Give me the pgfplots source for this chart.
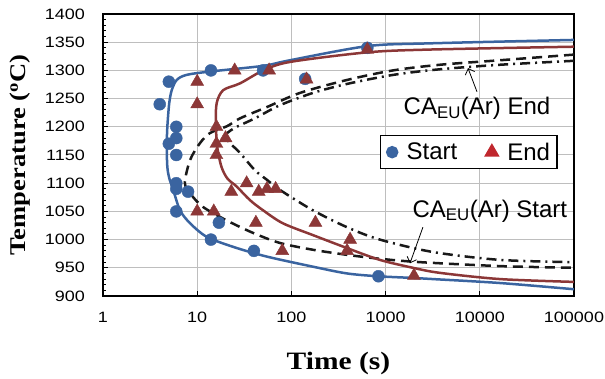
\documentclass[border=0pt]{standalone}
\usepackage{pgfplots}
\pgfplotsset{compat=1.18}
\usetikzlibrary{arrows.meta}
\usepackage{fontspec}
\setmainfont{Liberation Sans}
\newfontfamily\serifb[FakeStretch=1.18]{Liberation Serif}
\newfontfamily\tickfont[FakeStretch=1.2]{Liberation Sans}
\definecolor{sblue}{RGB}{58,100,160}
\definecolor{sred}{RGB}{140,55,55}
\definecolor{lred}{RGB}{192,39,45}
\definecolor{gridg}{RGB}{190,190,190}
\begin{document}
\begin{tikzpicture}
\path[use as bounding box] (-103pt,-83pt) rectangle (502pt,296pt);
\begin{axis}[
  at={(0,0)}, anchor=south west,
  scale only axis, width=471pt, height=282pt,
  xmode=log, log basis x=10,
  xmin=1, xmax=100000, ymin=900, ymax=1400,
  xtick={1,10,100,1000,10000,100000},
  xticklabels={1,10,100,1000,10000,100000},
  ytick={900,950,1000,1050,1100,1150,1200,1250,1300,1350,1400},
  yticklabels={900,950,1000,1050,1100,1150,1200,1250,1300,1350,1400},
  minor y tick num=4,
  xmajorgrids=true, xminorgrids=true, ymajorgrids=true, yminorgrids=false,
  major grid style={draw=gridg, line width=1pt},
  minor grid style={draw=gridg, line width=1pt},
  tick align=inside, tick pos=left,
  major tick length=5pt, minor tick length=3pt,
  every tick/.style={black, line width=1pt},
  axis line style={black, line width=2pt},
  ticklabel style={font=\fontsize{15}{18}\selectfont\tickfont},
  yticklabel style={inner sep=0pt, xshift=-18pt},
  xticklabel style={inner sep=0pt, yshift=-16pt},
  xlabel={\serifb\bfseries Time (s)},
  ylabel={\serifb\bfseries Temperature (\textsuperscript{o}C)},
  xlabel style={font=\fontsize{25}{28}\selectfont, at={(axis description cs:0.5,-0.2376)}, anchor=center},
  ylabel style={font=\fontsize{22.5}{26}\selectfont, at={(axis description cs:-0.1762,0.5)}, anchor=center},
  legend style={at={(axis description cs:0.588,0.571)}, anchor=north west,
    draw=black, line width=1.5pt, fill=white,
    font=\fontsize{24}{26}\selectfont, inner xsep=6pt, inner ysep=6pt,
    nodes={inner sep=1pt},
    /tikz/every odd column/.append style={column sep=8pt},
    /tikz/every even column/.append style={column sep=27pt}},
  legend image code/.code={\draw[#1] plot coordinates {(0pt,0pt)};},
  legend columns=2,
  legend cell align=left,
]
\addlegendimage{only marks, mark=*, mark size=5.5pt, color=sblue}
\addlegendimage{only marks, mark=triangle*, mark size=7.5pt, color=lred}
\legend{Start, End}

% CA_EU(Ar) Start (dashed)
\addplot[black!90, line width=2.5pt, dash pattern=on 10pt off 6pt, smooth, tension=0.5, forget plot] coordinates {
 (100000,1328) (16400,1318) (3780,1310) (1200,1300) (389,1283) (123,1260) (55,1235) (28.5,1215) (20.7,1201) (13.7,1189) (10.7,1171) (8.4,1141) (7.4,1100) (8.6,1080) (11.5,1058) (20,1035) (39,1012) (75.7,994) (169,982) (389,973) (870,966) (2320,960) (16400,953) (100000,950)
};
% CA_EU(Ar) End (dash-dot)
\addplot[black!90, line width=2.5pt, dash pattern=on 10pt off 5pt on 2pt off 5pt, smooth, tension=0.5, forget plot] coordinates {
 (100000,1317) (16400,1310) (3780,1302) (1200,1292) (389,1276) (169,1260) (75,1238) (41,1215) (25,1198) (20,1185) (22,1172) (28,1155) (41,1123) (55,1106) (75.7,1088) (169,1052) (389,1022) (870,1000) (3180,978) (16400,964) (100000,960)
};
% Start curve (blue)
\addplot[sblue, line width=2.5pt, smooth, tension=0.5, forget plot] coordinates {
 (100000,1354) (3000,1348) (640,1343) (96.7,1318) (49.9,1308) (13.7,1298) (7.7,1292) (6.06,1283) (5.37,1265) (5.05,1242) (4.82,1200) (4.75,1165) (4.82,1129) (5.05,1109) (5.57,1088) (6.57,1052) (8.4,1029) (12.6,1005) (24.2,987) (54.5,970) (169,952) (389,940) (830,935) (1950,932) (3180,930) (16400,923) (100000,912)
};
% End curve (red)
\addplot[sred, line width=2.5pt, smooth, tension=0.5, forget plot] coordinates {
 (100000,1342) (3000,1337) (640,1332) (96.7,1315) (50.4,1300) (28.5,1277) (18.9,1265) (16.1,1242) (15.8,1206) (16.3,1165) (18.1,1129) (21,1108) (26.3,1094) (36.3,1070) (50,1052) (81,1029) (169,1008) (389,985) (870,964) (1950,950) (3780,941) (16400,930) (100000,925)
};
% Start data
\addplot[only marks, mark=*, mark size=6pt, color=sblue, forget plot] coordinates {
 (4,1240) (5,1280) (6,1200) (6,1180) (5,1170) (6,1150) (6,1100) (6,1090) (8,1085) (6,1050) (17,1030) (14,1000) (40,980) (840,935) (14,1300) (50,1300) (140,1285) (640,1340)
};
% End data
\addplot[only marks, mark=triangle*, mark size=7.5pt, color=sred, forget plot] coordinates {
 (10,1280) (10,1240) (25,1300) (58,1300) (16,1200) (20,1180) (16,1170) (16,1150) (23,1085) (33.5,1100) (45,1085) (55,1090) (68,1090) (10,1050) (15,1050) (42,1030) (80,980) (180,1030) (420,1000) (390,980) (2000,936) (145,1284) (640,1337)
};

\node[font=\fontsize{24}{26}\selectfont] at (axis cs:9340,1233) {CA\textsubscript{EU}(Ar) End};
\draw[-{Straight Barb[length=5pt]}, line width=0.8pt] (axis cs:9340,1262) -- (axis cs:7500,1304);
\node[font=\fontsize{24}{26}\selectfont] at (axis cs:12800,1051) {CA\textsubscript{EU}(Ar) Start};
\draw[-{Straight Barb[length=5pt]}, line width=0.8pt] (axis cs:2490,1022) -- (axis cs:1815,958);
\end{axis}
\end{tikzpicture}
\end{document}
